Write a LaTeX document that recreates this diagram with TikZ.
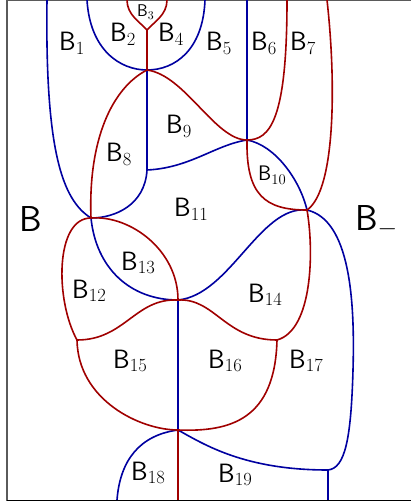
\RequirePackage{fix-cm}
\documentclass[tikz,border=0pt]{standalone}
\definecolor{bcol}{RGB}{0,0,160}
\definecolor{rcol}{RGB}{160,0,0}
\definecolor{fcol}{RGB}{90,90,90}
\begin{document}
\begin{tikzpicture}[x=1pt,y=-1pt,
  bl/.style={draw=bcol,line width=1.6pt},
  rd/.style={draw=rcol,line width=1.6pt},
  lab/.style={anchor=base west,inner sep=0pt,font=\fontsize{26.5}{30}\selectfont},
  labs/.style={anchor=base west,inner sep=0pt,font=\fontsize{17}{20}\selectfont},
  labm/.style={anchor=base west,inner sep=0pt,font=\fontsize{21}{24}\selectfont},
  labl/.style={anchor=base west,inner sep=0pt,font=\fontsize{36}{40}\selectfont}]
\useasboundingbox (0,0) rectangle (411,502);
% frame
\draw[fcol,line width=1.2pt] (411,0.6) -- (7,0.6) -- (7,500.5);
\draw[black,line width=1.2pt] (7,500.5) -- (411,500.5);
% coordinates
\coordinate (t1) at (47,0);
\coordinate (t2) at (87,0);
\coordinate (t3) at (127,0);
\coordinate (t4) at (167,0);
\coordinate (t5) at (205,0);
\coordinate (t6) at (247,0);
\coordinate (t7) at (287,0);
\coordinate (t8) at (327,0);
\coordinate (b1) at (117,500);
\coordinate (b2) at (178,500);
\coordinate (b3) at (328,500);
\coordinate (A) at (147,30);
\coordinate (N1) at (147,70);
\coordinate (C) at (147,170);
\coordinate (N2) at (91,218);
\coordinate (N4) at (247,140);
\coordinate (N5) at (307,210);
\coordinate (N3) at (178,300);
\coordinate (L) at (77,340);
\coordinate (R) at (277,340);
\coordinate (N7) at (178,430);
\coordinate (D) at (328,470);
% blue lines
\draw[bl] (t1) .. controls (45,150) and (62,200) .. (N2);
\draw[bl] (N2) .. controls (96,268) and (130,300) .. (N3);
\draw[bl] (t2) .. controls (90,50) and (120,70) .. (N1);
\draw[bl] (N1) .. controls (175,70) and (203,50) .. (t5);
\draw[bl] (N1) -- (C);
\draw[bl] (C) .. controls (145,205) and (115,218) .. (N2);
\draw[bl] (C) .. controls (190,168) and (215,145) .. (N4);
\draw[bl] (t6) -- (N4);
\draw[bl] (N4) .. controls (275,145) and (300,180) .. (N5);
\draw[bl] (N3) .. controls (230,295) and (260,205) .. (N5);
\draw[bl] (N5) .. controls (350,220) and (355,300) .. (353,370) .. controls (351,440) and (345,468) .. (D);
\draw[bl] (N3) -- (N7);
\draw[bl] (N7) .. controls (140,435) and (120,460) .. (b1);
\draw[bl] (N7) .. controls (205,445) and (245,470) .. (D);
\draw[bl] (D) -- (b3);
% red lines
\draw[rd] (t3) .. controls (127,15) and (140,22) .. (A);
\draw[rd] (A) .. controls (154,22) and (167,15) .. (t4);
\draw[rd] (A) -- (N1);
\draw[rd] (N1) .. controls (112,88) and (88,140) .. (N2);
\draw[rd] (N1) .. controls (185,75) and (215,140) .. (N4);
\draw[rd] (t7) .. controls (287,120) and (270,140) .. (N4);
\draw[rd] (N4) .. controls (246,195) and (265,210) .. (N5);
\draw[rd] (t8) .. controls (336,80) and (336,190) .. (N5);
\draw[rd] (N5) .. controls (314,250) and (313,330) .. (R);
\draw[rd] (N3) .. controls (215,298) and (225,340) .. (R);
\draw[rd] (N3) .. controls (135,298) and (125,340) .. (L);
\draw[rd] (N2) .. controls (55,218) and (55,300) .. (L);
\draw[rd] (N2) .. controls (130,215) and (178,250) .. (N3);
\draw[rd] (L) .. controls (78,400) and (140,430) .. (N7);
\draw[rd] (R) .. controls (275,420) and (230,432) .. (N7);
\draw[rd] (N7) -- (b2);
% labels
\node[lab] (l1) at (59,51) {$\mathsf{B}_{1}$};
\node[lab] (l2) at (110,42) {$\mathsf{B}_{2}$};
\node[labs] (l3) at (137,17) {$\mathsf{B}_{3}$};
\node[lab] (l4) at (158,42) {$\mathsf{B}_{4}$};
\node[lab] (l5) at (206,51) {$\mathsf{B}_{5}$};
\node[lab] (l6) at (251,51) {$\mathsf{B}_{6}$};
\node[lab] (l7) at (290,51) {$\mathsf{B}_{7}$};
\node[lab] (l8) at (106,162) {$\mathsf{B}_{8}$};
\node[lab] (l9) at (166,134) {$\mathsf{B}_{9}$};
\node[labm] (l10) at (258,181) {$\mathsf{B}_{10}$};
\node[lab] (l11) at (174,217) {$\mathsf{B}_{11}$};
\node[lab] (l12) at (72,298) {$\mathsf{B}_{12}$};
\node[lab] (l13) at (121,270) {$\mathsf{B}_{13}$};
\node[lab] (l14) at (248,302) {$\mathsf{B}_{14}$};
\node[lab] (l15) at (113,368) {$\mathsf{B}_{15}$};
\node[lab] (l16) at (208,368) {$\mathsf{B}_{16}$};
\node[lab] (l17) at (289,368) {$\mathsf{B}_{17}$};
\node[lab] (l18) at (131,480) {$\mathsf{B}_{18}$};
\node[lab] (l19) at (218,482) {$\mathsf{B}_{19}$};
\node[labl] (lB) at (19,231) {$\mathsf{B}$};
\node[labl] (lBm) at (355,230) {$\mathsf{B}_{-}$};
\end{tikzpicture}
\end{document}
